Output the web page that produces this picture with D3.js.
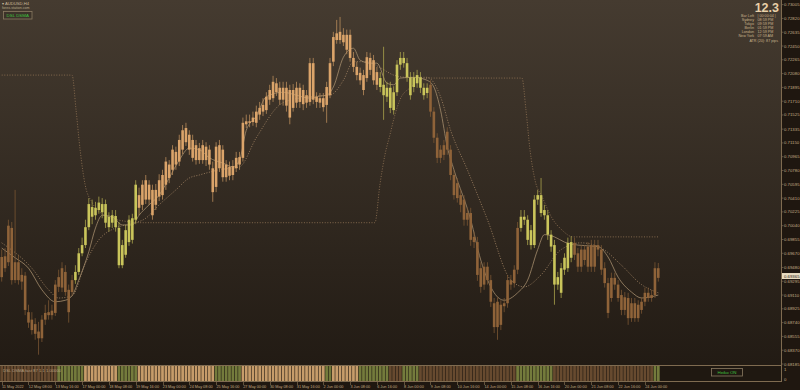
<!DOCTYPE html>
<html>
<head>
<meta charset="utf-8">
<script src="https://cdn.jsdelivr.net/npm/d3@7"></script>
<style>
body { margin: 0; background: #1f1710; }
svg { display: block; }
text { font-family: "Liberation Sans", Arial, sans-serif; }
</style>
</head>
<body>
<svg></svg>
<script>
var width = 800;
var height = 390;
var chart = { left: 0, right: 781, top: 0, bottom: 365 };
var sub = { top: 366, bottom: 381 };

// Heiken Ashi candles, AUDUSD H4, 11 May - 24 Jun 2022
var haOpen = [
    0.6962, 0.6947, 0.6955, 0.7001, 0.6955, 0.6955, 0.6938, 0.6937, 0.6888, 0.6878,
    0.6872, 0.6862, 0.6853, 0.6878, 0.6884, 0.6884, 0.6887, 0.6922, 0.6921, 0.6942,
    0.6918, 0.6915, 0.6931, 0.6942, 0.6967, 0.6978, 0.7002, 0.7029, 0.7028, 0.7025,
    0.7033, 0.7033, 0.7016, 0.7008, 0.7017, 0.7001, 0.6978, 0.6965, 0.6982, 0.6985,
    0.7012, 0.7045, 0.7032, 0.7039, 0.7059, 0.7052, 0.7032, 0.7043, 0.7045, 0.7059,
    0.7086, 0.7079, 0.7103, 0.7090, 0.7106, 0.7116, 0.7126, 0.7119, 0.7112, 0.7108,
    0.7092, 0.7110, 0.7106, 0.7081, 0.7056, 0.7081, 0.7106, 0.7086, 0.7083, 0.7072,
    0.7081, 0.7086, 0.7095, 0.7140, 0.7142, 0.7143, 0.7142, 0.7153, 0.7157, 0.7159,
    0.7173, 0.7175, 0.7195, 0.7189, 0.7189, 0.7189, 0.7186, 0.7162, 0.7169, 0.7189,
    0.7186, 0.7179, 0.7170, 0.7222, 0.7177, 0.7175, 0.7175, 0.7166, 0.7179, 0.7224,
    0.7253, 0.7253, 0.7260, 0.7260, 0.7260, 0.7229, 0.7217, 0.7209, 0.7206, 0.7202,
    0.7229, 0.7226, 0.7210, 0.7202, 0.7193, 0.7189, 0.7189, 0.7183, 0.7183, 0.7220,
    0.7229, 0.7222, 0.7203, 0.7190, 0.7195, 0.7203, 0.7189, 0.7182, 0.7193, 0.7157,
    0.7122, 0.7106, 0.7099, 0.7106, 0.7106, 0.7072, 0.7061, 0.7045, 0.7039, 0.7021,
    0.7021, 0.6989, 0.6982, 0.6947, 0.6925, 0.6931, 0.6931, 0.6900, 0.6868, 0.6898,
    0.6896, 0.6900, 0.6931, 0.6927, 0.6945, 0.7001, 0.7016, 0.7012, 0.6998, 0.6978,
    0.7039, 0.7045, 0.7025, 0.7018, 0.6992, 0.6978, 0.6935, 0.6914, 0.6945, 0.6947,
    0.6961, 0.6981, 0.6967, 0.6949, 0.6958, 0.6976, 0.6949, 0.6978, 0.6972, 0.6972,
    0.6947, 0.6927, 0.6907, 0.6925, 0.6925, 0.6911, 0.6908, 0.6907, 0.6900, 0.6880,
    0.6898, 0.6891, 0.6902, 0.6907, 0.6911, 0.6911, 0.6934
];
var haHigh = [
    0.6972, 0.6974, 0.7012, 0.7009, 0.7052, 0.6965, 0.6947, 0.6942, 0.6898, 0.6888,
    0.6880, 0.6875, 0.6884, 0.6898, 0.6904, 0.6898, 0.6931, 0.6945, 0.6955, 0.6951,
    0.6925, 0.6938, 0.6951, 0.6974, 0.6988, 0.7012, 0.7041, 0.7039, 0.7036, 0.7043,
    0.7041, 0.7039, 0.7022, 0.7025, 0.7025, 0.7009, 0.6985, 0.7005, 0.7018, 0.7020,
    0.7065, 0.7055, 0.7065, 0.7072, 0.7065, 0.7059, 0.7060, 0.7073, 0.7079, 0.7096,
    0.7092, 0.7112, 0.7110, 0.7126, 0.7139, 0.7142, 0.7132, 0.7126, 0.7119, 0.7115,
    0.7119, 0.7116, 0.7112, 0.7090, 0.7116, 0.7119, 0.7112, 0.7092, 0.7090, 0.7092,
    0.7103, 0.7103, 0.7149, 0.7153, 0.7153, 0.7157, 0.7165, 0.7170, 0.7175, 0.7183,
    0.7193, 0.7205, 0.7202, 0.7197, 0.7197, 0.7197, 0.7193, 0.7194, 0.7197, 0.7195,
    0.7193, 0.7186, 0.7229, 0.7229, 0.7183, 0.7182, 0.7182, 0.7197, 0.7229, 0.7264,
    0.7280, 0.7284, 0.7269, 0.7267, 0.7267, 0.7237, 0.7224, 0.7216, 0.7213, 0.7237,
    0.7236, 0.7233, 0.7217, 0.7210, 0.7244, 0.7197, 0.7197, 0.7191, 0.7226, 0.7237,
    0.7237, 0.7229, 0.7210, 0.7210, 0.7213, 0.7210, 0.7195, 0.7195, 0.7199, 0.7163,
    0.7128, 0.7112, 0.7119, 0.7136, 0.7112, 0.7079, 0.7068, 0.7052, 0.7045, 0.7028,
    0.7028, 0.6996, 0.6989, 0.6955, 0.6955, 0.6955, 0.6938, 0.6907, 0.6908, 0.6904,
    0.6907, 0.6938, 0.6938, 0.6951, 0.7009, 0.7025, 0.7025, 0.7018, 0.7005, 0.7045,
    0.7052, 0.7068, 0.7032, 0.7025, 0.6998, 0.6985, 0.6942, 0.6954, 0.6967, 0.6988,
    0.6990, 0.6988, 0.6974, 0.6978, 0.6978, 0.6982, 0.6985, 0.6985, 0.6985, 0.6978,
    0.6955, 0.6934, 0.6941, 0.6941, 0.6931, 0.6918, 0.6915, 0.6914, 0.6907, 0.6907,
    0.6904, 0.6908, 0.6921, 0.6921, 0.6918, 0.6955, 0.6954
];
var haLow = [
    0.6929, 0.6942, 0.6950, 0.6925, 0.6927, 0.6925, 0.6918, 0.6884, 0.6867, 0.6858,
    0.6851, 0.6831, 0.6848, 0.6871, 0.6878, 0.6878, 0.6883, 0.6915, 0.6915, 0.6910,
    0.6874, 0.6910, 0.6926, 0.6938, 0.6963, 0.6974, 0.6998, 0.7006, 0.7012, 0.7020,
    0.7014, 0.7001, 0.6996, 0.7001, 0.6996, 0.6947, 0.6947, 0.6961, 0.6977, 0.6980,
    0.7006, 0.7018, 0.7025, 0.7033, 0.7032, 0.7012, 0.7025, 0.7037, 0.7039, 0.7052,
    0.7061, 0.7072, 0.7079, 0.7084, 0.7100, 0.7111, 0.7099, 0.7090, 0.7086, 0.7087,
    0.7087, 0.7084, 0.7079, 0.7036, 0.7049, 0.7076, 0.7063, 0.7063, 0.7065, 0.7065,
    0.7076, 0.7079, 0.7090, 0.7135, 0.7136, 0.7138, 0.7136, 0.7146, 0.7151, 0.7154,
    0.7166, 0.7170, 0.7178, 0.7166, 0.7165, 0.7157, 0.7140, 0.7157, 0.7162, 0.7162,
    0.7159, 0.7162, 0.7165, 0.7167, 0.7162, 0.7162, 0.7157, 0.7142, 0.7175, 0.7218,
    0.7248, 0.7248, 0.7245, 0.7234, 0.7224, 0.7210, 0.7199, 0.7193, 0.7179, 0.7197,
    0.7206, 0.7193, 0.7186, 0.7183, 0.7146, 0.7170, 0.7155, 0.7153, 0.7178, 0.7213,
    0.7216, 0.7197, 0.7173, 0.7183, 0.7189, 0.7182, 0.7173, 0.7175, 0.7150, 0.7115,
    0.7088, 0.7088, 0.7092, 0.7099, 0.7065, 0.7039, 0.7035, 0.7022, 0.7004, 0.7004,
    0.6977, 0.6974, 0.6930, 0.6914, 0.6918, 0.6925, 0.6895, 0.6860, 0.6851, 0.6864,
    0.6888, 0.6894, 0.6918, 0.6921, 0.6939, 0.6996, 0.7005, 0.6978, 0.6972, 0.6974,
    0.7032, 0.7016, 0.7012, 0.6985, 0.6969, 0.6898, 0.6918, 0.6907, 0.6938, 0.6942,
    0.6955, 0.6958, 0.6942, 0.6942, 0.6951, 0.6942, 0.6942, 0.6942, 0.6963, 0.6938,
    0.6921, 0.6880, 0.6902, 0.6918, 0.6902, 0.6884, 0.6884, 0.6871, 0.6875, 0.6875,
    0.6875, 0.6886, 0.6896, 0.6902, 0.6902, 0.6907, 0.6929
];
var haClose = [
    0.6935, 0.6963, 0.7004, 0.6931, 0.6931, 0.6931, 0.6929, 0.6891, 0.6874, 0.6864,
    0.6859, 0.6853, 0.6878, 0.6887, 0.6888, 0.6890, 0.6925, 0.6935, 0.6947, 0.6915,
    0.6888, 0.6931, 0.6942, 0.6967, 0.6978, 0.7002, 0.7033, 0.7016, 0.7018, 0.7035,
    0.7022, 0.7008, 0.7002, 0.7018, 0.7002, 0.6951, 0.6951, 0.6998, 0.7012, 0.7014,
    0.7059, 0.7028, 0.7059, 0.7065, 0.7039, 0.7018, 0.7052, 0.7065, 0.7072, 0.7090,
    0.7068, 0.7106, 0.7086, 0.7119, 0.7132, 0.7135, 0.7106, 0.7095, 0.7092, 0.7092,
    0.7112, 0.7092, 0.7086, 0.7049, 0.7110, 0.7112, 0.7069, 0.7069, 0.7071, 0.7084,
    0.7095, 0.7096, 0.7142, 0.7144, 0.7144, 0.7149, 0.7157, 0.7162, 0.7166, 0.7177,
    0.7186, 0.7197, 0.7183, 0.7173, 0.7173, 0.7165, 0.7149, 0.7186, 0.7189, 0.7170,
    0.7167, 0.7169, 0.7222, 0.7173, 0.7170, 0.7169, 0.7163, 0.7190, 0.7222, 0.7257,
    0.7262, 0.7264, 0.7250, 0.7240, 0.7229, 0.7217, 0.7206, 0.7199, 0.7186, 0.7230,
    0.7213, 0.7199, 0.7193, 0.7190, 0.7179, 0.7177, 0.7162, 0.7159, 0.7220, 0.7229,
    0.7222, 0.7203, 0.7179, 0.7203, 0.7206, 0.7189, 0.7179, 0.7189, 0.7157, 0.7122,
    0.7095, 0.7095, 0.7112, 0.7130, 0.7072, 0.7045, 0.7041, 0.7032, 0.7012, 0.7012,
    0.6985, 0.6982, 0.6938, 0.6922, 0.6949, 0.6949, 0.6902, 0.6868, 0.6902, 0.6871,
    0.6900, 0.6931, 0.6925, 0.6945, 0.7001, 0.7016, 0.7012, 0.6985, 0.6978, 0.7039,
    0.7045, 0.7021, 0.7018, 0.6992, 0.6976, 0.6925, 0.6925, 0.6947, 0.6961, 0.6981,
    0.6982, 0.6965, 0.6949, 0.6972, 0.6972, 0.6949, 0.6978, 0.6949, 0.6978, 0.6945,
    0.6927, 0.6887, 0.6934, 0.6934, 0.6907, 0.6891, 0.6891, 0.6880, 0.6880, 0.6900,
    0.6880, 0.6902, 0.6914, 0.6914, 0.6907, 0.6947, 0.6947
];

// trend colour of the candles, as runs of [state, bars]
var candleRuns = [["brown", 22], ["green", 19], ["tan", 72], ["green", 15], ["brown", 27], ["green", 16], ["brown", 26]];
// DSL DSMA histogram in the sub window
var stripRuns = [["brown", 17], ["green", 8], ["tan", 10], ["green", 6], ["tan", 23], ["green", 8], ["tan", 25], ["green", 2],
    ["tan", 8], ["green", 9], ["brown", 4], ["green", 5], ["brown", 29], ["green", 11], ["brown", 30], ["green", 2]];

// [bar index, price]
var fastMa = [[0, 0.6974], [4, 0.6961], [8, 0.6947], [12, 0.6918], [16, 0.6902], [19, 0.6904], [21, 0.6910], [23, 0.6931],
    [26, 0.6969], [28, 0.7001], [30, 0.7018], [33, 0.7016], [36, 0.7005], [39, 0.7005], [41, 0.7018], [44, 0.7032],
    [47, 0.7045], [50, 0.7068], [53, 0.7092], [56, 0.7108], [59, 0.7106], [62, 0.7095], [66, 0.7088], [69, 0.7083],
    [71, 0.7092], [73, 0.7132], [76, 0.7151], [79, 0.7177], [84, 0.7183], [88, 0.7179], [92, 0.7175], [95, 0.7178],
    [97, 0.7179], [99, 0.7190], [102, 0.7230], [105, 0.7242], [107, 0.7226], [110, 0.7222], [112, 0.7222], [115, 0.7195],
    [117, 0.7193], [119, 0.7202], [123, 0.7203], [127, 0.7199], [129, 0.7190], [131, 0.7159], [133, 0.7110], [135, 0.7079],
    [140, 0.7012], [143, 0.6958], [147, 0.6914], [150, 0.6904], [154, 0.6914], [157, 0.6931], [160, 0.6972], [162, 0.6992],
    [165, 0.6989], [168, 0.6982], [172, 0.6978], [178, 0.6976], [181, 0.6962], [184, 0.6935], [188, 0.6915], [191, 0.6907],
    [196, 0.6911]];
var slowMa = [[0, 0.6981], [9, 0.6947], [14, 0.6918], [17, 0.6907], [21, 0.6910], [25, 0.6954], [29, 0.6985], [34, 0.7001],
    [38, 0.7006], [43, 0.7014], [47, 0.7032], [52, 0.7052], [56, 0.7068], [59, 0.7072], [65, 0.7079], [71, 0.7083],
    [76, 0.7122], [84, 0.7169], [92, 0.7177], [98, 0.7179], [102, 0.7199], [105, 0.7224], [109, 0.7224], [113, 0.7216],
    [117, 0.7206], [121, 0.7203], [127, 0.7203], [131, 0.7177], [134, 0.7132], [139, 0.7079], [145, 0.7012], [152, 0.6931],
    [156, 0.6922], [161, 0.6938], [167, 0.6972], [173, 0.6981], [179, 0.6974], [185, 0.6951], [191, 0.6925], [196, 0.6914]];
var stopLine = [[0, 0.7206], [21, 0.7206], [22.2, 0.7159], [23.4, 0.7106], [24.9, 0.7059], [27, 0.7035], [30.8, 0.7018],
    [36.8, 0.7010], [42.2, 0.7008], [111.4, 0.7008], [112.9, 0.7059], [114.4, 0.7099], [115.9, 0.7126], [117.4, 0.7153],
    [118.9, 0.7173], [121.9, 0.7189], [124.9, 0.7199], [127.9, 0.7202], [155.3, 0.7202], [156.5, 0.7159], [157.7, 0.7106],
    [159.2, 0.7065], [161.3, 0.7043], [164.3, 0.7014], [167.3, 0.6998], [170.5, 0.6989], [196, 0.6989]];

var priceTicks = ["0.73005", "0.72820", "0.72635", "0.72450", "0.72265", "0.72080", "0.71895", "0.71710", "0.71525",
    "0.71335", "0.71150", "0.70965", "0.70780", "0.70595", "0.70410", "0.70225", "0.70040", "0.69855", "0.69670",
    "0.69480", "0.69295", "0.69110", "0.68925", "0.68740", "0.68555", "0.68370", "0.68185"];
var currentPrice = "0.69365";
var timeLabels = ["11 May 2022", "12 May 08:00", "13 May 16:00", "17 May 00:00", "18 May 08:00", "19 May 16:00",
    "23 May 00:00", "24 May 08:00", "25 May 16:00", "27 May 00:00", "30 May 08:00", "31 May 16:00", "2 Jun 00:00",
    "3 Jun 08:00", "6 Jun 16:00", "8 Jun 00:00", "9 Jun 08:00", "10 Jun 16:00", "14 Jun 00:00", "15 Jun 08:00",
    "16 Jun 16:00", "20 Jun 00:00", "21 Jun 08:00", "22 Jun 16:00", "24 Jun 00:00"];
var barsPerLabel = 8;
var infoNames = ["Bar Left", "Sydney", "Tokyo", "Berlin", "London", "New York"];
var infoValues = ["| 00:00:04 |", "08:59 PM", "09:59 PM", "01:59 PM", "12:59 PM", "07:59 AM"];

var bodyColor = { tan: "#dba46a", green: "#cac55b", brown: "#8f6339" };
var wickColor = { tan: "#b98b5a", green: "#a9a34b", brown: "#7a5532" };
var stripColor = { tan: "#d5a872", green: "#7c8440", brown: "#6e4f32" };

function expandRuns(runs) {
    var out = [];
    runs.forEach(function(r) {
        for (var k = 0; k < r[1]; k++) out.push(r[0]);
    });
    return out;
}
var candleState = expandRuns(candleRuns);
var stripState = expandRuns(stripRuns);

var x_scale = d3.scaleLinear().domain([0, 196]).range([1.7, 658.3]);
var y_scale = d3.scaleLinear().domain([0.68185, 0.73000]).range([364, 5]);

var svg = d3.select("svg")
    .attr("width", width)
    .attr("height", height);

var defs = svg.append("defs");
var grad = defs.append("linearGradient")
    .attr("id", "bg")
    .attr("x1", 0).attr("y1", 0).attr("x2", 0).attr("y2", 1);
grad.append("stop").attr("offset", "0%").attr("stop-color", "#453b30");
grad.append("stop").attr("offset", "100%").attr("stop-color", "#221b14");
defs.append("clipPath").attr("id", "clip")
    .append("rect")
    .attr("x", chart.left).attr("y", chart.top)
    .attr("width", chart.right - chart.left).attr("height", chart.bottom - chart.top);

// backgrounds
svg.append("rect").attr("width", width).attr("height", height).attr("fill", "#1f1710");
svg.append("rect")
    .attr("x", chart.left).attr("y", chart.top)
    .attr("width", chart.right - chart.left).attr("height", chart.bottom - chart.top)
    .attr("fill", "url(#bg)");
svg.append("rect")
    .attr("x", chart.left).attr("y", sub.top)
    .attr("width", chart.right - chart.left).attr("height", sub.bottom - sub.top)
    .attr("fill", "#1f1811");

var plot = svg.append("g").attr("clip-path", "url(#clip)");

// indicator lines
var line = d3.line()
    .x(function(d) { return x_scale(d[0]); })
    .y(function(d) { return y_scale(d[1]); })
    .curve(d3.curveMonotoneX);

plot.append("path")
    .datum(stopLine)
    .attr("fill", "none")
    .attr("stroke", "#8d7052")
    .attr("stroke-width", 0.9)
    .attr("stroke-dasharray", "1,1.6")
    .attr("d", line);

plot.append("path")
    .datum(slowMa)
    .attr("fill", "none")
    .attr("stroke", "#a08262")
    .attr("stroke-width", 0.9)
    .attr("stroke-dasharray", "1,1.6")
    .attr("d", line);

plot.append("path")
    .datum(fastMa)
    .attr("fill", "none")
    .attr("stroke", "#a48d6c")
    .attr("stroke-width", 0.8)
    .attr("d", line);

// candles
var idx = d3.range(haOpen.length);
var candles = plot.selectAll(".candle")
    .data(idx)
    .enter().append("g")
    .attr("class", "candle");

candles.append("line")
    .attr("x1", function(i) { return x_scale(i); })
    .attr("x2", function(i) { return x_scale(i); })
    .attr("y1", function(i) { return y_scale(haHigh[i]); })
    .attr("y2", function(i) { return y_scale(haLow[i]); })
    .attr("stroke", function(i) { return wickColor[candleState[i]]; })
    .attr("stroke-width", 0.8);

candles.append("rect")
    .attr("x", function(i) { return x_scale(i) - 1.3; })
    .attr("width", 2.6)
    .attr("y", function(i) { return y_scale(Math.max(haOpen[i], haClose[i])); })
    .attr("height", function(i) {
        return Math.max(0.9, Math.abs(y_scale(haOpen[i]) - y_scale(haClose[i])));
    })
    .attr("fill", function(i) { return bodyColor[candleState[i]]; });

// sub window histogram
var step = x_scale(1) - x_scale(0);
svg.append("g").selectAll("rect")
    .data(idx)
    .enter().append("rect")
    .attr("x", function(i) { return x_scale(i) - step / 2 + 0.3; })
    .attr("width", step - 0.6)
    .attr("y", sub.top)
    .attr("height", sub.bottom - sub.top)
    .attr("fill", function(i) { return stripColor[stripState[i]]; })
    .attr("opacity", 0.92);

svg.append("text")
    .attr("x", 3).attr("y", 371.5)
    .attr("font-size", 4.2)
    .attr("fill", "#c8b89a")
    .attr("opacity", 0.8)
    .text("DSL DSMA fast 87 1.1 1.00000");

// frame lines
var frame = "#7f6b50";
svg.append("line").attr("x1", 0).attr("x2", chart.right).attr("y1", 365.5).attr("y2", 365.5)
    .attr("stroke", frame).attr("stroke-width", 1);
svg.append("line").attr("x1", 0).attr("x2", chart.right).attr("y1", 381.5).attr("y2", 381.5)
    .attr("stroke", frame).attr("stroke-width", 1);
svg.append("line").attr("x1", chart.right + 0.5).attr("x2", chart.right + 0.5).attr("y1", 0).attr("y2", 382)
    .attr("stroke", frame).attr("stroke-width", 1);

// price axis
var pAxis = svg.append("g").attr("class", "y axis");
pAxis.selectAll("line")
    .data(priceTicks)
    .enter().append("line")
    .attr("x1", chart.right).attr("x2", chart.right + 2.5)
    .attr("y1", function(d) { return y_scale(+d); })
    .attr("y2", function(d) { return y_scale(+d); })
    .attr("stroke", frame).attr("stroke-width", 0.7);
pAxis.selectAll("text")
    .data(priceTicks)
    .enter().append("text")
    .attr("x", 784)
    .attr("y", function(d) { return y_scale(+d) + 1.5; })
    .attr("font-size", 4.3)
    .attr("fill", "#c4ae88")
    .text(function(d) { return d; });

var cp = y_scale(+currentPrice);
svg.append("rect")
    .attr("x", 782).attr("y", cp - 3)
    .attr("width", 18).attr("height", 6)
    .attr("fill", "#e8dcc0");
svg.append("text")
    .attr("x", 784).attr("y", cp + 1.5)
    .attr("font-size", 4.3)
    .attr("fill", "#2a2018")
    .text(currentPrice);

svg.append("text").attr("x", 784).attr("y", 370.5).attr("font-size", 4.3).attr("fill", "#c4ae88").text("1");
svg.append("text").attr("x", 784).attr("y", 380.5).attr("font-size", 4.3).attr("fill", "#c4ae88").text("0");

// time axis
var tAxis = svg.append("g").attr("class", "x axis");
tAxis.selectAll("line")
    .data(timeLabels)
    .enter().append("line")
    .attr("x1", function(d, k) { return Math.round(x_scale(k * barsPerLabel)) + 0.5; })
    .attr("x2", function(d, k) { return Math.round(x_scale(k * barsPerLabel)) + 0.5; })
    .attr("y1", 381.5).attr("y2", 385)
    .attr("stroke", frame).attr("stroke-width", 0.7);
tAxis.selectAll("text")
    .data(timeLabels)
    .enter().append("text")
    .attr("x", function(d, k) { return x_scale(k * barsPerLabel) + 0.3; })
    .attr("y", 387.5)
    .attr("font-size", 3.8)
    .attr("fill", "#c0a882")
    .text(function(d) { return d; });

// top left header and button
svg.append("text").attr("x", 2).attr("y", 5.3).attr("font-size", 4.2).attr("fill", "#c8b89a")
    .text("\u25BE AUDUSD,H4");
svg.append("text").attr("x", 2).attr("y", 9.4).attr("font-size", 3.6).attr("fill", "#b8a88a")
    .text("forex-station.com");
svg.append("rect").attr("x", 3.5).attr("y", 11.5).attr("width", 28.5).attr("height", 7.5)
    .attr("fill", "#3b3229").attr("stroke", "#8a7a62").attr("stroke-width", 0.8);
svg.append("text").attr("x", 17.75).attr("y", 16.8).attr("text-anchor", "middle")
    .attr("font-size", 4.4).attr("fill", "#3fc23f").text("DSL DSMA");

// bottom right button
svg.append("rect").attr("x", 711.5).attr("y", 368.5).attr("width", 31).attr("height", 7.5)
    .attr("fill", "#1f1811").attr("stroke", "#8a7a62").attr("stroke-width", 0.8);
svg.append("text").attr("x", 727).attr("y", 373.8).attr("text-anchor", "middle")
    .attr("font-size", 4.4).attr("fill", "#3fc23f").text("Heiko ON");

// top right info panel
svg.append("text")
    .attr("x", 779).attr("y", 12.3)
    .attr("text-anchor", "end")
    .attr("font-size", 12.5).attr("font-weight", "bold")
    .attr("fill", "#e8d0a8")
    .text("12.3");
var info = svg.append("g").attr("font-size", 3.7).attr("fill", "#c9b28c");
infoNames.forEach(function(n, k) {
    var yy = 17.2 + k * 4.05;
    info.append("text").attr("x", 754).attr("y", yy).attr("text-anchor", "end").text(n);
    info.append("text").attr("x", 757.5).attr("y", yy).text(infoValues[k]);
});
info.append("text").attr("x", 778).attr("y", 17.2 + 6 * 4.05).attr("text-anchor", "end")
    .text("ATR (20): 87 pips");
</script>
</body>
</html>
